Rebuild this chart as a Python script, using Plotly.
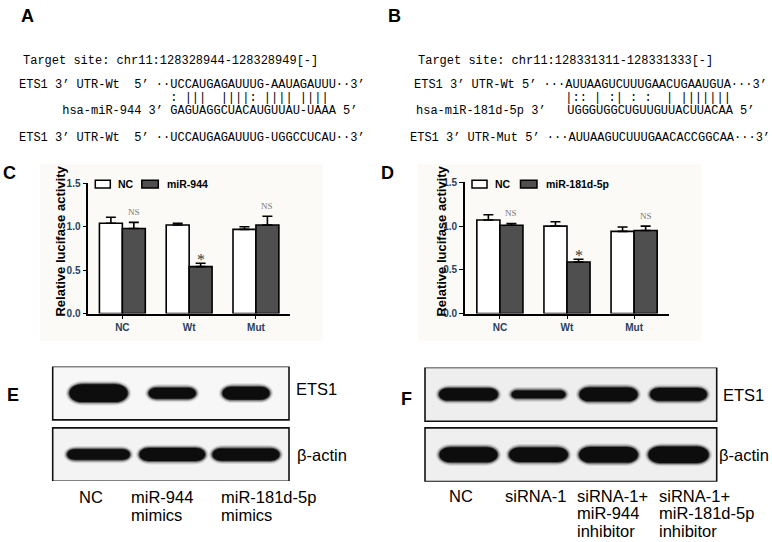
import plotly.graph_objects as go

W, H = 772, 542

# ---- panels A / B: target sites ----
a_site = "Target site: chr11:128328944-128328949[-]"
a_wt = "ETS1 3’ UTR-Wt  5’ ··UCCAUGAGAUUUG-AAUAGAUUU··3’"
a_pair = ": |||  ||||: |||| ||||"
a_mir = "hsa-miR-944 3’ GAGUAGGCUACAUGUUAU-UAAA 5’"
a_mut = "ETS1 3’ UTR-Wt  5’ ··UCCAUGAGAUUUG-UGGCCUCAU··3’"

b_site = "Target site: chr11:128331311-128331333[-]"
b_wt = "ETS1 3’ UTR-Wt 5’ ···AUUAAGUCUUUGAACUGAAUGUA···3’"
b_pair = "|:: | :| : :  | |||||||"
b_mir = "hsa-miR-181d-5p 3’   UGGGUGGCUGUUGUUACUUACAA 5’"
b_mut = "ETS1 3’ UTR-Mut 5’ ···AUUAAGUCUUUGAACACCGGCAA···3’"

# ---- panels C / D: luciferase ----
groups = ["NC", "Wt", "Mut"]
c_nc = [1.04, 1.02, 0.97]
c_nc_err = [0.07, 0.02, 0.03]
c_mir = [0.98, 0.54, 1.02]
c_mir_err = [0.07, 0.04, 0.10]
c_sig = ["NS", "*", "NS"]

d_nc = [1.07, 1.00, 0.94]
d_nc_err = [0.06, 0.05, 0.05]
d_mir = [1.01, 0.59, 0.95]
d_mir_err = [0.02, 0.03, 0.05]
d_sig = ["NS", "*", "NS"]

# ---- panels E / F: western blots (band length in lanes, height in rows) ----
blot_rows = ["ETS1", "β-actin"]
e_lanes = [["NC"], ["miR-944", "mimics"], ["miR-181d-5p", "mimics"]]
e_ets1_len = [0.79, 0.64, 0.64]
e_ets1_h = [0.29, 0.18, 0.21]
e_actin_len = [0.85, 0.89, 0.91]
e_actin_h = [0.17, 0.21, 0.20]

f_lanes = [["NC"], ["siRNA-1"], ["siRNA-1+", "miR-944", "inhibitor"],
           ["siRNA-1+", "miR-181d-5p", "inhibitor"]]
f_ets1_len = [0.84, 0.77, 0.83, 0.81]
f_ets1_h = [0.20, 0.13, 0.23, 0.21]
f_actin_len = [0.83, 0.84, 0.84, 0.86]
f_actin_h = [0.25, 0.24, 0.26, 0.27]


def px(x):
    return x / W


def py(y):
    return 1 - y / H


SANS = "Liberation Sans"
MONO = "Liberation Mono"
SERIF = "Liberation Serif"
DARK = "#4f4f4f"
NB = "\u00a0"

fig = go.Figure()
ann = []
shapes = []


def text(s, x, y, size, family=SANS, xanchor="left", weight="normal", color="black", **kw):
    ann.append(dict(text=s.replace(" ", NB), x=px(x), y=py(y), xref="paper", yref="paper",
                    xanchor=xanchor, yanchor="middle", showarrow=False, borderpad=0,
                    font=dict(family=family, size=size, color=color, weight=weight), **kw))


# panel letters
for letter, x, y in [("A", 27, 11), ("B", 394, 11), ("C", 9, 171), ("D", 387, 171),
                     ("E", 13, 397), ("F", 406, 401)]:
    text(letter, x, y, 18, weight="bold", xanchor="center")

# sequence panels
for x0, site, wt, pair, mir, mut, seq_col, mir_pad in [
        (18, a_site, a_wt, a_pair, a_mir, a_mut, 21, 6),
        (413, b_site, b_wt, b_pair, b_mir, b_mut, 21, 0)]:
    text(site, x0 + 4, 57, 12, MONO)
    text(wt, x0, 81, 12, MONO)
    text(NB * seq_col + pair, x0, 95, 12, MONO)
    text(NB * mir_pad + mir, x0 + (0 if mir_pad else 2), 108, 12, MONO)
    text(mut, x0 - (0 if mir_pad else 4), 136, 12, MONO)

# ---- bar charts ----
BG = "#fbfaf6"
for i, (xa, ya, nc, nc_err, mir, mir_err, sig, mir_name, x0, x1, bg0, bg1, tx) in enumerate([
        ("x", "y", c_nc, c_nc_err, c_mir, c_mir_err, c_sig, "miR-944", 88.3, 290, 40, 323, 61),
        ("x2", "y2", d_nc, d_nc_err, d_mir, d_mir_err, d_sig, "miR-181d-5p", 465, 669, 418, 701, 442)]):
    shapes.append(dict(type="rect", xref="paper", yref="paper", x0=px(bg0), x1=px(bg1),
                       y0=py(342), y1=py(162), fillcolor=BG, line_width=0, layer="below"))
    for vals, errs, col, name in [(nc, nc_err, "white", "NC"), (mir, mir_err, DARK, mir_name)]:
        fig.add_trace(go.Bar(
            x=groups, y=vals, name=name, xaxis=xa, yaxis=ya, showlegend=False,
            marker=dict(color=col, line=dict(color="black", width=1.6)),
            error_y=dict(type="data", symmetric=False, array=errs, arrayminus=[0] * len(errs),
                         color="black", thickness=1.6, width=5),
            cliponaxis=False))
    for g, v, e, s in zip(groups, mir, mir_err, sig):
        star = s == "*"
        ann.append(dict(text=s, x=g, y=v + e, xref=xa, yref=ya, xshift=11.5,
                        yshift=-7 if star else 3, yanchor="bottom", showarrow=False,
                        font=dict(family=SERIF, size=16 if star else 9,
                                  color="#3a3a3a" if star else "#777")))
    # legend
    lx = x0 + 7
    shapes.append(dict(type="rect", xref="paper", yref="paper", x0=px(lx), x1=px(lx + 15),
                       y0=py(186.5), y1=py(178.5), fillcolor="white",
                       line=dict(color="black", width=1.5)))
    text("NC", lx + 21.5, 182, 10.5, weight="bold")
    lx2 = lx + (46.5 if i == 0 else 48.5)
    shapes.append(dict(type="rect", xref="paper", yref="paper", x0=px(lx2), x1=px(lx2 + 16.5),
                       y0=py(186.5), y1=py(178.5), fillcolor=DARK,
                       line=dict(color="black", width=1.5)))
    text(mir_name, lx2 + 24, 182, 10.5, weight="bold")
    text("Relative lucifase activity", tx, 241, 13, weight="bold", xanchor="center",
         textangle=-90)

axis_common = dict(showline=True, linecolor="black", linewidth=1.6, showgrid=False,
                   zeroline=False, ticks="outside", ticklen=4, tickwidth=1.4,
                   tickcolor="black", tickfont=dict(family=SANS, size=10, weight="bold"))
layout_axes = {}
for k, (x0, x1, ytop) in enumerate([(88.3, 290, 181.7), (465, 669, 180.7)]):
    sfx = "" if k == 0 else "2"
    layout_axes["xaxis" + sfx] = dict(axis_common, domain=[px(x0), px(x1)],
                                      anchor="y" + sfx, type="category",
                                      range=[-0.51, 2.51] if k == 0 else [-0.52, 2.52])
    layout_axes["yaxis" + sfx] = dict(axis_common, domain=[py(314.3), py(ytop)],
                                      anchor="x" + sfx, range=[0, 1.5],
                                      tickvals=[0, 0.5, 1.0, 1.5], tickformat=".1f")


# ---- western blots ----
def band_path(cx, cy, a, b, r):
    k = 0.5523
    return (f"M{cx - a + r},{cy - b} L{cx + a - r},{cy - b} "
            f"C{cx + a - r + k * r},{cy - b} {cx + a},{cy - k * b} {cx + a},{cy} "
            f"C{cx + a},{cy + k * b} {cx + a - r + k * r},{cy + b} {cx + a - r},{cy + b} "
            f"L{cx - a + r},{cy + b} "
            f"C{cx - a + r - k * r},{cy + b} {cx - a},{cy + k * b} {cx - a},{cy} "
            f"C{cx - a},{cy - k * b} {cx - a + r - k * r},{cy - b} {cx - a + r},{cy - b} Z")


blots = [
    dict(sfx="3", lanes=e_lanes, bands=[(e_ets1_len, e_ets1_h), (e_actin_len, e_actin_h)],
         x0=52.7, x1=289, lane0=98.5, lane_px=73.75, ytop=368.3, ybot=485,
         row0=395.5, row_px=62.5, half=0.435, bg=["#f7f7f7", "#f3f3f3"],
         label_dx=[-20.5, -42, -26], label_y=501.5, row_label_dx=[6, 7], row_label_dy=[-4, 0]),
    dict(sfx="4", lanes=f_lanes, bands=[(f_ets1_len, f_ets1_h), (f_actin_len, f_actin_h)],
         x0=425, x1=716.7, lane0=468.5, lane_px=70, ytop=369.3, ybot=485.7,
         row0=396.7, row_px=61.5, half=0.446, bg=["#eeeeee", "#efefef"],
         label_dx=[-20.5, -34.5, -32.5, -21], label_y=500, row_label_dx=[5, 1], row_label_dy=[1, 0]),
]

for bl in blots:
    s = bl["sfx"]
    xa, ya = "x" + s, "y" + s
    xr = [(bl["x0"] - bl["lane0"]) / bl["lane_px"], (bl["x1"] - bl["lane0"]) / bl["lane_px"]]
    yr = [(bl["ybot"] - bl["row0"]) / bl["row_px"], (bl["ytop"] - bl["row0"]) / bl["row_px"]]
    layout_axes["xaxis" + s] = dict(domain=[px(bl["x0"]), px(bl["x1"])], range=xr,
                                    anchor=ya, visible=False)
    layout_axes["yaxis" + s] = dict(domain=[py(bl["ybot"]), py(bl["ytop"])], range=yr,
                                    anchor=xa, visible=False)
    n = len(bl["lanes"])
    fig.add_trace(go.Scatter(x=list(range(n)), y=[0] * n, xaxis=xa, yaxis=ya, mode="markers",
                             marker=dict(opacity=0), hoverinfo="skip", showlegend=False))
    for row, (lens, hs) in enumerate(bl["bands"]):
        shapes.append(dict(type="rect", xref=xa + " domain", yref=ya, x0=0, x1=1,
                           y0=row - bl["half"], y1=row + bl["half"], fillcolor=bl["bg"][row],
                           line=dict(color="#111", width=1.6)))
        for lane in range(n):
            # soft halo layers, then the solid core of the band
            for grow, op in [(3.5, 0.12), (2.2, 0.25), (1.0, 0.5), (0.0, 1.0)]:
                a = lens[lane] / 2 + grow / bl["lane_px"]
                b = hs[lane] / 2 + grow / bl["row_px"]
                r = min(b * bl["row_px"] * 1.4, a * bl["lane_px"]) / bl["lane_px"]
                shapes.append(dict(type="path", xref=xa, yref=ya, opacity=op,
                                   path=band_path(lane, row, a, b, r),
                                   fillcolor="#0d0d0d", line_width=0))
        ann.append(dict(text=blot_rows[row], x=1, xref=xa + " domain", y=row, yref=ya,
                        xshift=bl["row_label_dx"][row], yshift=-bl["row_label_dy"][row],
                        xanchor="left", yanchor="middle", showarrow=False, borderpad=0,
                        font=dict(family=SANS, size=16.5, color="black")))
    for lane, lines in enumerate(bl["lanes"]):
        for j, line in enumerate(lines):
            ann.append(dict(text=line, x=lane, xref=xa, xshift=bl["label_dx"][lane],
                            y=py(bl["label_y"] + 17.8 * j), yref="paper", xanchor="left",
                            yanchor="middle", showarrow=False, borderpad=0,
                            font=dict(family=SANS, size=16.5, color="black")))

fig.update_layout(
    width=W, height=H, margin=dict(l=0, r=0, t=0, b=0),
    paper_bgcolor="white", plot_bgcolor="rgba(0,0,0,0)",
    barmode="group", bargap=0.313, bargroupgap=0,
    annotations=ann, shapes=shapes, **layout_axes)

# page body has a default 8px margin; drop it so the figure sits at the window origin
fig.write_html("out.html", config=dict(displayModeBar=False),
               post_script="document.body.style.margin='0';")
